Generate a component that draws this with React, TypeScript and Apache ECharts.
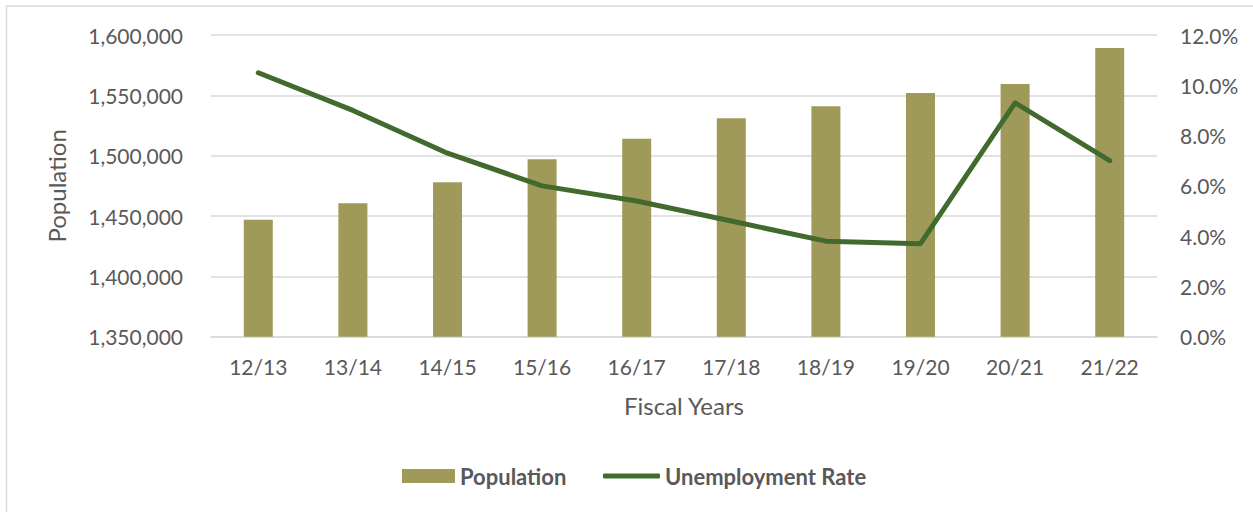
import React, { useEffect, useRef } from "react";
import * as echarts from "echarts";

const categories = ["12/13", "13/14", "14/15", "15/16", "16/17", "17/18", "18/19", "19/20", "20/21", "21/22"];
const population = [1447000, 1460500, 1478000, 1497000, 1514000, 1531000, 1541000, 1552000, 1559300, 1589200];
const unemployment = [10.5, 9.0, 7.3, 6.0, 5.4, 4.6, 3.8, 3.7, 9.3, 7.0];

const FONT = "Lato";
const GRAY = "#595959";

export default function App() {
  const ref = useRef<HTMLDivElement>(null);
  useEffect(() => {
    const chart = echarts.init(ref.current!, null, { renderer: "svg" });
    chart.setOption({
      animation: false,
      backgroundColor: "#ffffff",
      textStyle: { fontFamily: FONT },
      grid: { left: 211, right: 96, top: 35, bottom: 175.3, containLabel: false },
      graphic: [
        {
          type: "rect",
          shape: { x: 6.5, y: 6, width: 1300, height: 560 },
          style: { fill: "none", stroke: "#d9d9d9", lineWidth: 1.5 },
          silent: true,
        },
      ],
      legend: [
        {
          data: ["Population"],
          left: 402,
          top: 465,
          padding: 0,
          icon: "rect",
          itemWidth: 53,
          itemHeight: 14,
          textStyle: { color: GRAY, fontSize: 22, fontWeight: "bold", fontFamily: FONT },
        },
        {
          data: ["Unemployment Rate"],
          left: 603,
          top: 465,
          padding: 0,
          icon: "roundRect",
          itemWidth: 57,
          itemHeight: 5,
          itemStyle: { color: "#436a2e" },
          textStyle: { color: GRAY, fontSize: 22, fontWeight: "bold", fontFamily: FONT },
        },
      ],
      xAxis: {
        type: "category",
        data: categories,
        name: "Fiscal Years",
        nameLocation: "middle",
        nameGap: 57,
        nameTextStyle: { color: GRAY, fontSize: 24, fontFamily: FONT },
        axisLine: { show: true, lineStyle: { color: "#d9d9d9", width: 1.5 } },
        axisTick: { show: false },
        axisLabel: { color: GRAY, fontSize: 21, margin: 19, fontFamily: FONT },
      },
      yAxis: [
        {
          type: "value",
          min: 1350000,
          max: 1600000,
          interval: 50000,
          name: "Population",
          nameLocation: "middle",
          nameGap: 143,
          nameTextStyle: { color: GRAY, fontSize: 24, fontFamily: FONT },
          axisLine: { show: false },
          axisTick: { show: false },
          axisLabel: {
            color: GRAY,
            fontSize: 21,
            margin: 28,
            fontFamily: FONT,
            formatter: (v: number) => v.toLocaleString("en-US"),
          },
          splitLine: { show: true, lineStyle: { color: "#d9d9d9", width: 1.5 } },
        },
        {
          type: "value",
          min: 0,
          max: 12,
          interval: 2,
          position: "right",
          axisLine: { show: false },
          axisTick: { show: false },
          axisLabel: {
            color: GRAY,
            fontSize: 21,
            margin: 23,
            fontFamily: FONT,
            formatter: (v: number) => v.toFixed(1) + "%",
          },
          splitLine: { show: false },
        },
      ],
      series: [
        {
          name: "Population",
          type: "bar",
          data: population,
          barWidth: 29,
          itemStyle: { color: "#9f9a5a" },
          yAxisIndex: 0,
        },
        {
          name: "Unemployment Rate",
          type: "line",
          data: unemployment,
          yAxisIndex: 1,
          symbol: "none",
          showSymbol: false,
          lineStyle: { color: "#436a2e", width: 5, cap: "round", join: "round" },
          itemStyle: { color: "#436a2e" },
        },
      ],
    });
    return () => chart.dispose();
  }, []);
  return <div ref={ref} style={{ position: "fixed", left: 0, top: 0, width: 1253, height: 512 }} />;
}
